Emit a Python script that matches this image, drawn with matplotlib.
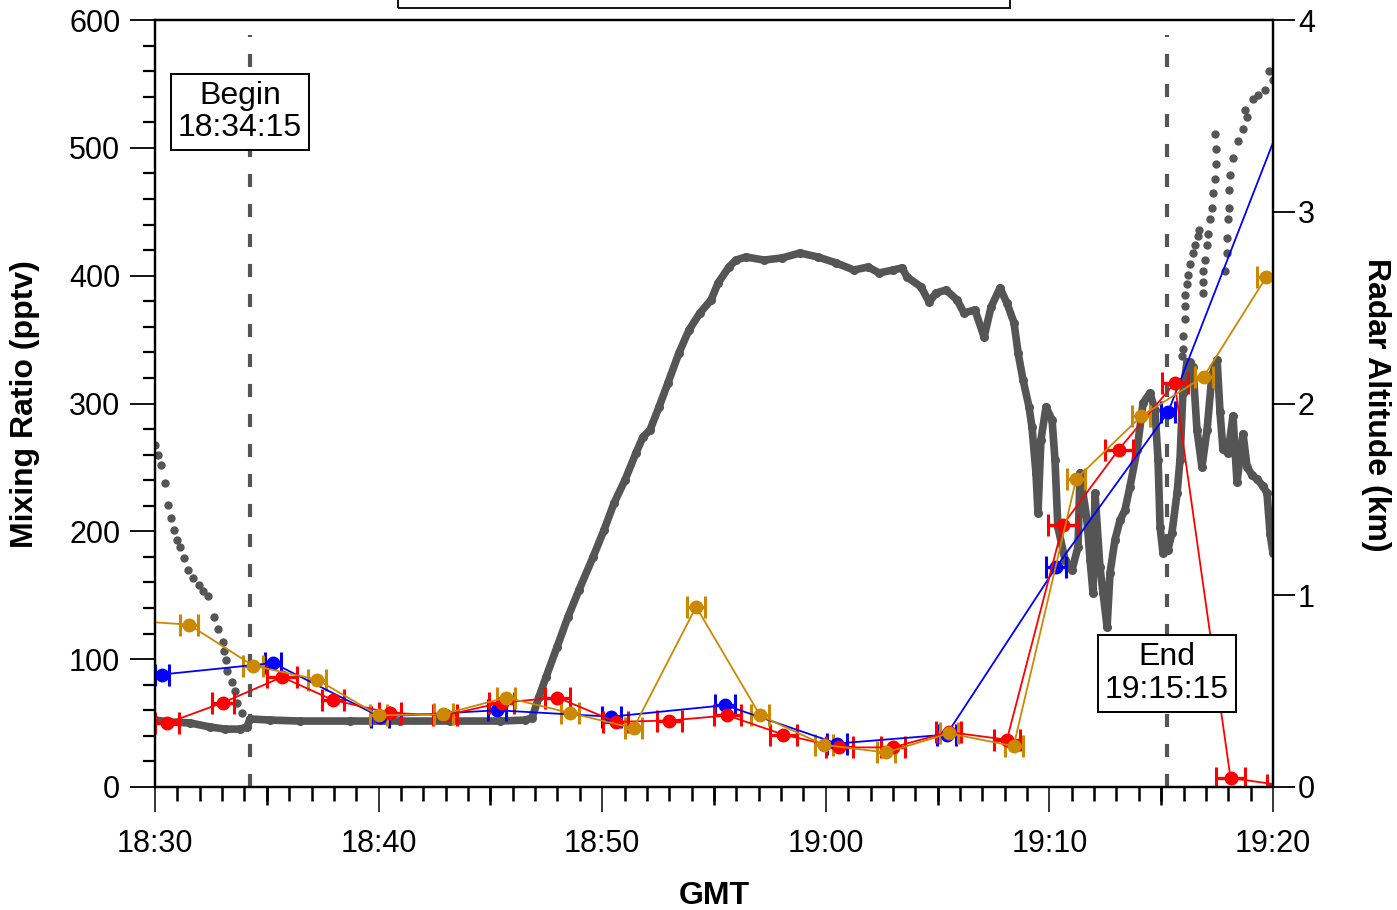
import matplotlib
matplotlib.use("Agg")
import matplotlib.pyplot as plt
from matplotlib.patches import Rectangle
from matplotlib.ticker import MultipleLocator

plt.rcParams['font.family'] = ['Liberation Sans', 'DejaVu Sans']
plt.rcParams['lines.scale_dashes'] = False

# ---------------- data (time in minutes after 18:30 GMT) ----------------
x_ticks = [0, 10, 20, 30, 40, 50]
x_tick_labels = ["18:30", "18:40", "18:50", "19:00", "19:10", "19:20"]
y_ticks = [0, 100, 200, 300, 400, 500, 600]
alt_ticks = [0, 1, 2, 3, 4]

begin_t, begin_label = 4.25, "Begin\n18:34:15"
end_t, end_label = 45.25, "End\n19:15:15"

blue_t = [0.31, 5.28, 10.06, 15.3, 20.4, 25.5, 30.5, 35.4, 40.3, 45.3, 50.4]
blue_v = [88, 97, 55, 60, 55, 64, 34, 41, 172, 293, 522]
blue_err = [0.3, 0.35, 0.4, 0.4, 0.42, 0.46, 0.45, 0.42, 0.45, 0.33, 0.4]

red_t = [0.54, 3.04, 5.68, 7.96, 10.5, 12.97, 15.5, 18.0, 20.6, 23.0, 25.6,
         28.1, 30.6, 33.0, 35.5, 38.1, 40.6, 43.1, 45.6, 48.1, 50.35]
red_v = [50, 66, 86, 68, 58, 56, 66, 70, 51, 52, 56,
         41, 31, 31, 43, 37, 205, 264, 316, 7, 1.5]
red_err = [0.52, 0.5, 0.69, 0.48, 0.5, 0.52, 0.55, 0.56, 0.55, 0.56, 0.6,
           0.6, 0.6, 0.55, 0.55, 0.58, 0.67, 0.63, 0.58, 0.65, 0.6]

orange_t = [-1.0, 1.52, 4.38, 7.25, 10.0, 12.9, 15.7, 18.55, 21.4, 24.2, 27.06,
            29.9, 32.7, 35.5, 38.4, 41.2, 44.1, 46.9, 49.7]
orange_v = [130, 127, 95, 84, 56, 57, 70, 58, 46, 141, 56,
            33, 27, 42, 32, 241, 290, 321, 399]
orange_err = [0.4, 0.4, 0.45, 0.4, 0.38, 0.42, 0.4, 0.4, 0.4, 0.39, 0.4,
              0.4, 0.4, 0.4, 0.4, 0.41, 0.4, 0.4, 0.4]

# radar altitude (km): continuous trace
alt_t = [0.0, 0.67, 1.57, 2.46, 3.13, 3.80, 4.11, 4.25, 5.14, 6.48, 8.72, 10.96,
         13.19, 15.43, 16.55, 16.86, 17.17, 17.49, 17.98, 18.47, 18.96, 19.59,
         20.08, 20.53, 21.02, 21.51, 21.82, 22.14, 22.54, 22.94, 23.43, 23.88,
         24.37, 24.87, 25.18, 25.67, 25.98, 26.43, 27.24, 28.04, 28.85, 29.65,
         30.46, 31.26, 31.89, 32.38, 33.01, 33.41, 33.63, 34.26, 34.62, 34.93,
         35.38, 35.87, 36.18, 36.67, 37.08, 37.39, 37.79, 38.10, 38.42, 38.60,
         38.82, 39.09, 39.22, 39.40, 39.49, 39.62, 39.85, 40.12, 40.25, 40.38,
         40.70, 41.01, 41.28, 41.37, 41.68, 41.82, 41.95, 42.04, 42.26, 42.40,
         42.58, 42.71, 42.93, 43.16, 43.38, 43.60, 43.92, 44.19, 44.50, 44.72,
         44.86, 44.95, 45.08, 45.30, 45.48, 45.71, 45.84, 45.97, 46.15, 46.29,
         46.42, 46.60, 46.82, 47.05, 47.27, 47.50, 47.63, 47.76, 47.99, 48.21,
         48.39, 48.66, 48.84, 49.06, 49.28, 49.55, 49.73, 49.87, 50.00]
alt_km = [0.349, 0.339, 0.334, 0.313, 0.302, 0.302, 0.313, 0.355, 0.349, 0.344,
          0.344, 0.344, 0.344, 0.344, 0.349, 0.360, 0.469, 0.574, 0.730, 0.887,
          1.027, 1.199, 1.340, 1.481, 1.601, 1.742, 1.825, 1.862, 1.982, 2.107,
          2.263, 2.383, 2.472, 2.540, 2.628, 2.712, 2.748, 2.764, 2.748, 2.759,
          2.785, 2.764, 2.733, 2.696, 2.712, 2.681, 2.696, 2.707, 2.660, 2.608,
          2.529, 2.576, 2.592, 2.540, 2.472, 2.488, 2.347, 2.503, 2.602, 2.524,
          2.420, 2.263, 2.123, 1.982, 1.877, 1.638, 1.429, 1.810, 1.982, 1.914,
          1.705, 1.356, 1.184, 1.132, 1.252, 1.638, 1.392, 1.184, 1.012, 1.533,
          1.147, 1.012, 0.834, 1.116, 1.288, 1.392, 1.445, 1.565, 1.757, 2.003,
          2.055, 1.966, 1.705, 1.356, 1.220, 1.236, 1.325, 1.533, 1.705, 2.055,
          2.216, 2.216, 2.190, 1.862, 1.669, 1.862, 2.149, 2.227, 1.956, 1.763,
          1.742, 1.935, 1.591, 1.841, 1.669, 1.627, 1.606, 1.570, 1.533, 1.319,
          1.220]

# radar altitude (km): isolated samples
alt_dot_t = [0.0, 0.13, 0.27, 0.45, 0.58, 0.72, 0.85, 0.98, 1.12, 1.30, 1.48,
             1.70, 1.97, 2.15, 2.37, 2.64, 2.82, 3.04, 3.09, 3.18, 3.22, 3.44,
             3.58, 3.67, 3.89,
             45.93, 45.97, 45.97, 46.06, 46.06, 46.06, 46.15, 46.20, 46.29, 46.42,
             46.51, 46.65, 46.69, 46.87, 46.87, 46.87, 46.96, 47.05, 47.09, 47.18,
             47.27, 47.32, 47.41, 47.45, 47.45, 47.41, 47.85, 47.94, 47.94, 47.99,
             48.03, 48.03, 48.08, 48.21, 48.43, 48.66, 48.84, 48.75, 49.11, 49.33,
             49.64, 49.82, 50.00]
alt_dot_km = [1.784, 1.731, 1.679, 1.585, 1.471, 1.403, 1.340, 1.288, 1.252, 1.194,
              1.132, 1.090, 1.053, 1.022, 0.996, 0.887, 0.824, 0.756, 0.709, 0.662,
              0.605, 0.548, 0.501, 0.438, 0.386,
              2.248, 2.284, 2.352, 2.441, 2.508, 2.566, 2.623, 2.670, 2.728, 2.785,
              2.827, 2.874, 2.905, 2.576, 2.634, 2.691, 2.748, 2.827, 2.884, 2.962,
              3.020, 3.098, 3.171, 3.249, 3.327, 3.405, 2.691, 2.785, 2.863, 2.962,
              3.020, 3.113, 3.192, 3.280, 3.369, 3.432, 3.494, 3.531, 3.588, 3.609,
              3.635, 3.734, 3.687]

# ---------------- figure ----------------
W, H = 1397, 910
fig = plt.figure(figsize=(W / 100, H / 100), dpi=100)
ax = fig.add_axes([155 / W, 1 - 787 / H, (1273 - 155) / W, (787 - 20) / H])
ax2 = ax.twinx()
ax.set_zorder(ax2.get_zorder() + 1)
ax.patch.set_visible(False)

gray = '#555555'
ax2.plot(alt_t, alt_km, color=gray, lw=5.5, marker='o', ms=5.5,
         solid_joinstyle='round', solid_capstyle='round')
ax2.plot(alt_dot_t, alt_dot_km, 'o', color=gray, ms=5, ls='none')
ax2.set_ylim(0, 4)

colors = {'blue': '#0000FF', 'red': '#FF0000', 'orange': '#CC8800'}
for t, v, e, c in [(blue_t, blue_v, blue_err, colors['blue']),
                   (red_t, red_v, red_err, colors['red']),
                   (orange_t, orange_v, orange_err, colors['orange'])]:
    ax.errorbar(t, v, xerr=e, color=c, lw=1.3, marker='o', ms=9,
                elinewidth=2.4, capsize=8, capthick=2.2, clip_on=True)

for tt in (begin_t, end_t):
    ax.plot([tt, tt], [0, 588], color=gray, lw=3, dashes=(9.4, 12.2),
            solid_capstyle='butt', dash_capstyle='butt', zorder=1)

box = dict(boxstyle='square,pad=0.22', fc='white', ec='black', lw=1.4)
ax.text(3.8, 528, begin_label, ha='center', va='center', fontsize=23,
        bbox=box, zorder=20, linespacing=1.12)
ax.text(end_t, 88.8, end_label, ha='center', va='center', fontsize=23,
        bbox=box, zorder=20, linespacing=1.12)

ax.set_xlim(0, 50)
ax.set_ylim(0, 600)

# ticks
ax.set_xticks(x_ticks)
ax.set_xticklabels(x_tick_labels)
ax.xaxis.set_minor_locator(MultipleLocator(1))
ax.set_yticks(y_ticks)
ax.yaxis.set_minor_locator(MultipleLocator(20))
ax.tick_params(axis='x', which='major', direction='out', length=18, width=1.1,
               pad=12, labelsize=22)
ax.tick_params(axis='x', which='minor', direction='out', length=10, width=1.8)
ax.tick_params(axis='y', which='major', direction='out', length=18, width=1.3,
               pad=7, labelsize=22)
ax.tick_params(axis='y', which='minor', direction='out', length=8.5, width=1.6)
ax2.set_yticks(alt_ticks)
ax2.tick_params(axis='y', which='major', direction='out', length=16, width=1.3,
                pad=2, labelsize=22)

sec = ax.secondary_xaxis('bottom')
sec.set_xticks([5, 15, 25, 35, 45])
sec.tick_params(direction='out', length=13, width=1.8, labelbottom=False)
for s in sec.spines.values():
    s.set_visible(False)

for a in (ax, ax2):
    for s in a.spines.values():
        s.set_linewidth(1.6)

fig.text(25 / W, 1 - 404 / H, "Mixing Ratio (pptv)", rotation=90, ha='center',
         va='center', fontsize=23, fontweight='bold')
fig.text(1376 / W, 1 - 405 / H, "Radar Altitude (km)", rotation=270,
         ha='center', va='center', fontsize=23, fontweight='bold')
fig.text(714 / W, 1 - 896 / H, "GMT", ha='center', va='center', fontsize=23,
         fontweight='bold')

fig.patches.append(Rectangle((398 / W, 1 - 8 / H), 612 / W, 0.05,
                             transform=fig.transFigure, fill=False,
                             ec='black', lw=1.3))

fig.savefig("out.png", dpi=100)
